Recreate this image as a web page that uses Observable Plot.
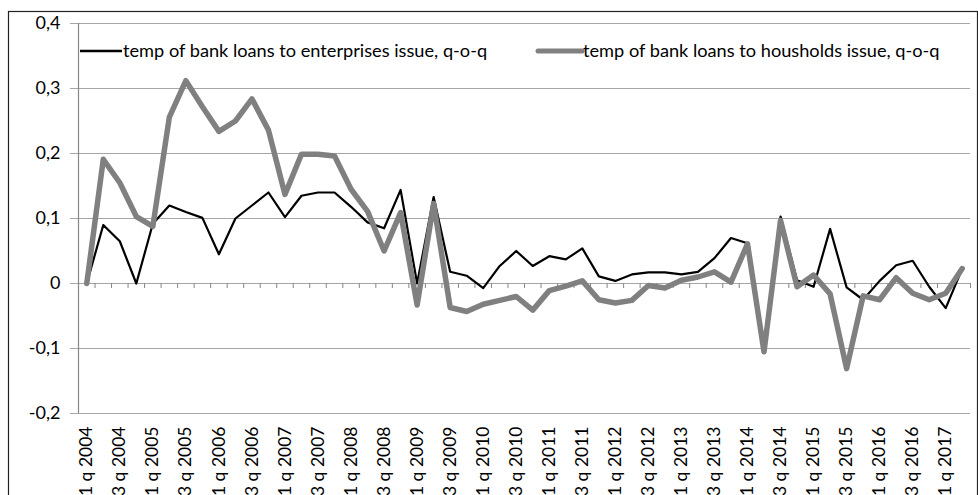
<!DOCTYPE html>
<html><head><meta charset="utf-8">
<script src="https://cdn.jsdelivr.net/npm/d3@7"></script>
<script src="https://cdn.jsdelivr.net/npm/@observablehq/plot@0.6"></script>
<style>
body{margin:0;background:#fff}
#chart{position:relative;width:978px;height:495px;overflow:hidden}
</style>
</head><body><div id="chart"></div>
<script>
const quarters = [
 "1 q 2004","2 q 2004","3 q 2004","4 q 2004",
 "1 q 2005","2 q 2005","3 q 2005","4 q 2005",
 "1 q 2006","2 q 2006","3 q 2006","4 q 2006",
 "1 q 2007","2 q 2007","3 q 2007","4 q 2007",
 "1 q 2008","2 q 2008","3 q 2008","4 q 2008",
 "1 q 2009","2 q 2009","3 q 2009","4 q 2009",
 "1 q 2010","2 q 2010","3 q 2010","4 q 2010",
 "1 q 2011","2 q 2011","3 q 2011","4 q 2011",
 "1 q 2012","2 q 2012","3 q 2012","4 q 2012",
 "1 q 2013","2 q 2013","3 q 2013","4 q 2013",
 "1 q 2014","2 q 2014","3 q 2014","4 q 2014",
 "1 q 2015","2 q 2015","3 q 2015","4 q 2015",
 "1 q 2016","2 q 2016","3 q 2016","4 q 2016",
 "1 q 2017","2 q 2017"
];
const enterprises = [
 0.000, 0.090, 0.065, 0.000,
 0.092, 0.120, 0.110, 0.101,
 0.045, 0.100, 0.120, 0.140,
 0.102, 0.135, 0.140, 0.140,
 0.118, 0.094, 0.085, 0.144,
 0.000, 0.133, 0.018, 0.012,
 -0.007, 0.027, 0.050, 0.027,
 0.042, 0.037, 0.054, 0.011,
 0.004, 0.014, 0.017, 0.017,
 0.014, 0.018, 0.039, 0.070,
 0.062, -0.100, 0.103, 0.005,
 -0.005, 0.084, -0.006, -0.025,
 0.004, 0.028, 0.035, -0.005,
 -0.038, 0.023
];
const households = [
 0.000, 0.191, 0.155, 0.103,
 0.088, 0.256, 0.312, 0.272,
 0.234, 0.250, 0.284, 0.236,
 0.137, 0.199, 0.199, 0.196,
 0.145, 0.111, 0.050, 0.109,
 -0.033, 0.123, -0.037, -0.043,
 -0.032, -0.026, -0.020, -0.041,
 -0.011, -0.004, 0.004, -0.025,
 -0.030, -0.026, -0.003, -0.007,
 0.005, 0.010, 0.018, 0.002,
 0.061, -0.105, 0.097, -0.005,
 0.013, -0.016, -0.131, -0.019,
 -0.025, 0.009, -0.015, -0.025,
 -0.015, 0.023
];
const yTicks = [-0.2, -0.1, 0, 0.1, 0.2, 0.3, 0.4];
const legendLabels = [
 "temp of bank loans to enterprises issue, q-o-q",
 "temp of bank loans to housholds issue, q-o-q"
];
const seriesColors = ["#000000", "#808080"];
const seriesWidths = [2.2, 5.5];

const data = quarters.map((q, i) => ({i, q, ent: enterprises[i], hh: households[i]}));
const labelIdx = quarters.map((q, i) => i).filter(i => i % 2 === 0);
const boundaries = d3.range(quarters.length + 1).map(k => k - 0.5);

const FONT = "Lato, 'Open Sans', sans-serif";
const plot = Plot.plot({
  width: 978, height: 495,
  marginLeft: 78, marginRight: 8, marginTop: 23, marginBottom: 82,
  style: {fontFamily: FONT, fontSize: "16px", color: "#000", background: "#fff", overflow: "visible"},
  x: {type: "linear", domain: [-0.5, quarters.length - 0.5]},
  y: {domain: [-0.2, 0.4]},
  marks: [
    Plot.gridY(yTicks, {stroke: "#a6a6a6", strokeOpacity: 1, strokeWidth: 1.2}),
    Plot.ruleX([-0.5], {stroke: "#868686", strokeWidth: 1.2}),
    Plot.ruleX(boundaries, {x: d => d, y1: 0, y2: -0.0078, stroke: "#868686"}),
    Plot.axisY(yTicks, {tickFormat: d => String(d).replace(".", ","), tickSize: 8, tickPadding: 10, stroke: "#a6a6a6", fontSize: 18, label: null}),
    Plot.axisX(labelIdx, {tickFormat: i => quarters[i], tickRotate: -90, tickSize: 0, tickPadding: 13, fontSize: 17.5, label: null}),
    Plot.line(data, {x: "i", y: "ent", stroke: seriesColors[0], strokeWidth: seriesWidths[0], strokeLinejoin: "round"}),
    Plot.line(data, {x: "i", y: "hh", stroke: seriesColors[1], strokeWidth: seriesWidths[1], strokeLinejoin: "round"})
  ]
});
document.getElementById("chart").appendChild(plot);

const svg = d3.select(plot);
// outer frame
svg.append("rect").attr("x", 8.5).attr("y", 11.5).attr("width", 969).attr("height", 520)
  .attr("fill", "none").attr("stroke", "#222").attr("stroke-width", 1.2);
// legend
const legendX = [[80, 122], [538, 582]];
const legendY = 51;
legendLabels.forEach((t, k) => {
  svg.append("line").attr("x1", legendX[k][0]).attr("x2", legendX[k][1]).attr("y1", legendY).attr("y2", legendY)
    .attr("stroke", seriesColors[k]).attr("stroke-width", k ? 5 : 2.5).attr("stroke-linecap", k ? "round" : "butt");
  svg.append("text").attr("x", legendX[k][1] + 1).attr("y", legendY).attr("dy", "0.35em")
    .attr("text-anchor", "start")
    .attr("font-family", FONT).attr("font-size", 18.2).attr("fill", "#000").text(t);
});
</script></body></html>
